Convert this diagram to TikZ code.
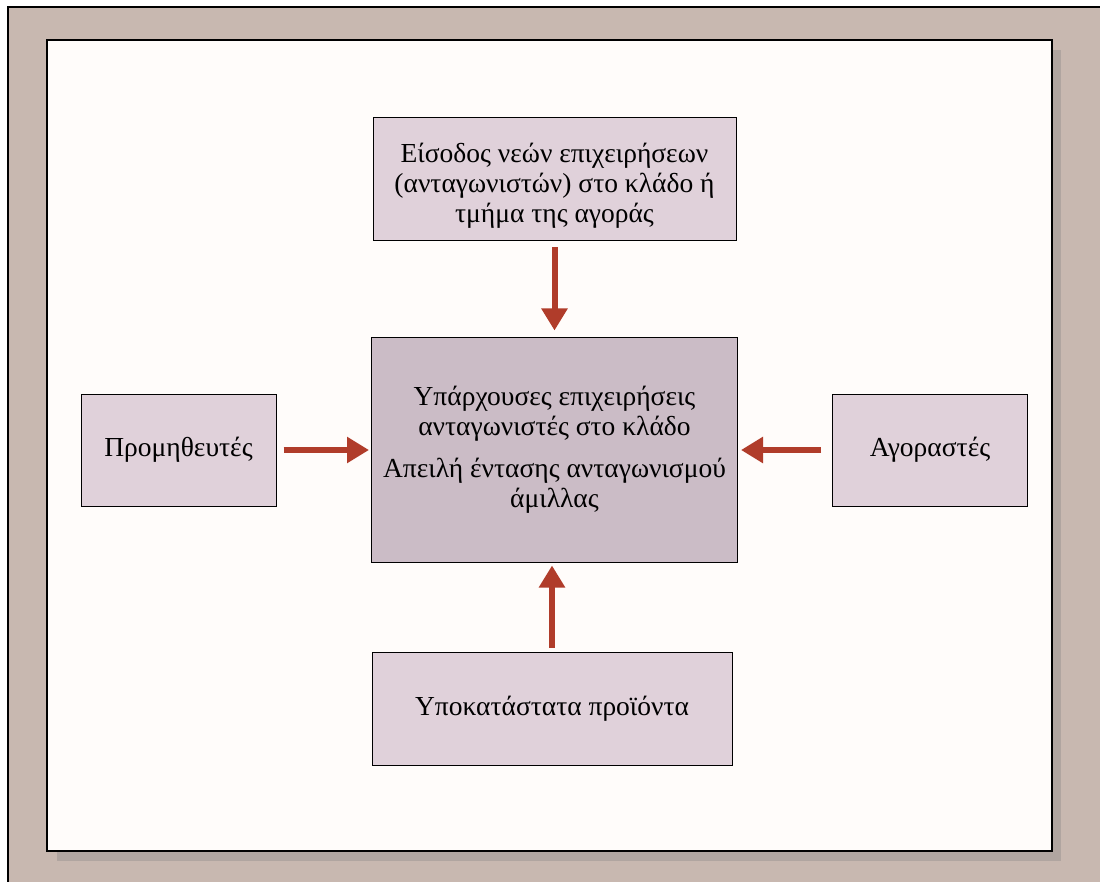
\documentclass[tikz,border=0pt]{standalone}
\usepackage{fontspec}
\setmainfont{Liberation Serif}
\usepackage{tikz}
\usetikzlibrary{arrows.meta}
\definecolor{frametan}{HTML}{C8B8B0}
\definecolor{shadowgrey}{HTML}{B0A5A0}
\definecolor{paper}{HTML}{FFFCFA}
\definecolor{forcebox}{HTML}{E0D1DA}
\definecolor{rivalbox}{HTML}{CBBCC6}
\definecolor{arrowred}{HTML}{B03C2A}
\tikzstyle{force} = [rectangle, draw=black, line width=1pt, fill=forcebox, text centered, align=center, inner sep=0pt, font=\fontsize{27.5}{30}\selectfont]
\tikzstyle{rivals} = [rectangle, draw=black, line width=1pt, fill=rivalbox, text centered, align=center, inner sep=0pt, minimum width=366pt, minimum height=224pt, font=\fontsize{27.5}{30}\selectfont]
\tikzstyle{arrow} = [line width=6pt, draw=arrowred, -{Triangle[width=25pt,length=22pt]}]
\begin{document}
\begin{tikzpicture}[x=1pt, y=-1pt, node distance=264pt]
\useasboundingbox (0,0) rectangle (1100,882);
% FRAME
\fill[frametan] (8,7) rectangle (1100,882);
\draw[line width=1.5pt] (8,882) -- (8,7) -- (1100,7);
\fill[shadowgrey] (57,50) rectangle (1061,861);
\draw[line width=1.5pt, fill=paper] (47,40) rectangle (1052,851);

% NODES
\node (rivals) [rivals] at (554.5,450) {Υπάρχουσες επιχειρήσεις\\ανταγωνιστές στο κλάδο\\[12pt]Απειλή έντασης ανταγωνισμού\\άμιλλας};
\node (entrants) [force, above of=rivals, yshift=6.5pt, minimum width=363pt, minimum height=123pt] {\rule{0pt}{32pt}Είσοδος νεών επιχειρήσεων\\(ανταγωνιστών) στο κλάδο ή\\τμήμα της αγοράς};
\node (substitutes) [force, below of=rivals, xshift=-2.5pt, yshift=5.5pt, minimum width=360pt, minimum height=113pt] {Υποκατάστατα προϊόντα};
\node (suppliers) [force, left of=rivals, xshift=-112pt, minimum width=195pt, minimum height=112pt] {Προμηθευτές};
\node (buyers) [force, right of=rivals, xshift=111.5pt, minimum width=195pt, minimum height=112pt] {Αγοραστές};

% ARROWS
\draw [arrow, shorten <=6pt, shorten >=7pt] (entrants) -- (rivals);
\draw [arrow, shorten <=7pt, shorten >=2pt] (suppliers) -- (rivals);
\draw [arrow, shorten <=11pt, shorten >=3pt] (buyers) -- (rivals);
\draw [arrow, shorten <=4pt, shorten >=3pt] (substitutes.north) -- (substitutes.north |- rivals.south);
\end{tikzpicture}
\end{document}
